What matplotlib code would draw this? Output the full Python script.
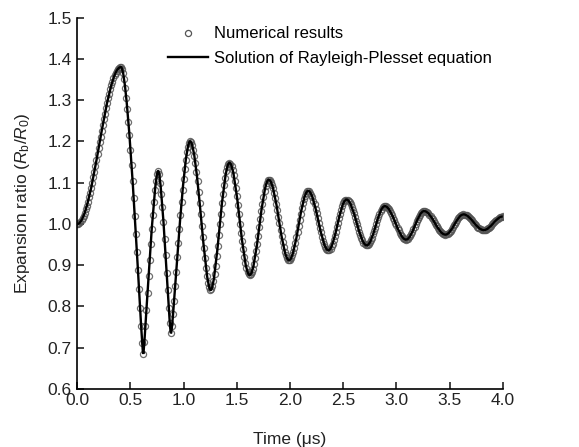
import matplotlib
matplotlib.use('Agg')
import matplotlib.pyplot as plt
import numpy as np
from matplotlib.path import Path
from matplotlib.patches import PathPatch
from matplotlib.bezier import BezierSegment
from matplotlib.lines import Line2D

plt.rcParams['font.family'] = ['Liberation Sans', 'DejaVu Sans']
plt.rcParams['mathtext.fontset'] = 'custom'
plt.rcParams['mathtext.rm'] = 'Liberation Sans'
plt.rcParams['mathtext.it'] = 'Liberation Sans:italic'

# turning points of the bubble radius
t_ext = [0.0, 0.41, 0.62, 0.76, 0.88, 1.06, 1.254, 1.43, 1.62, 1.80, 1.99,
         2.17, 2.36, 2.53, 2.72, 2.89, 3.09, 3.26, 3.46, 3.63, 3.82, 4.0]
r_ext = [1.0, 1.38, 0.685, 1.128, 0.735, 1.2, 0.84, 1.148, 0.876, 1.107, 0.912,
         1.08, 0.936, 1.059, 0.948, 1.043, 0.962, 1.031, 0.974, 1.023, 0.985, 1.018]
# how round each turning point is (short handle = sharp cusp)
bend = [0.36, 0.36, 0.08, 0.30, 0.12, 0.36, 0.30, 0.36, 0.36, 0.36, 0.36,
        0.36, 0.36, 0.36, 0.36, 0.36, 0.36, 0.36, 0.36, 0.36, 0.36, 0.36]

dt_num = 0.01  # output step of the numerical results

fig = plt.figure(figsize=(5.79, 4.47), dpi=100)
ax = fig.add_axes([0.1335, 0.1298, 0.735, 0.831])

verts = [(t_ext[0], r_ext[0])]
codes = [Path.MOVETO]
segs = []
for i in range(len(t_ext) - 1):
    t0, t1 = t_ext[i], t_ext[i + 1]
    d = t1 - t0
    p = [(t0, r_ext[i]), (t0 + bend[i] * d, r_ext[i]),
         (t1 - bend[i + 1] * d, r_ext[i + 1]), (t1, r_ext[i + 1])]
    verts += p[1:]
    codes += [Path.CURVE4] * 3
    segs.append(np.array(p))

# numerical results sit on the same curve
tt, rr = [], []
for p in segs:
    pts = BezierSegment(p)(np.linspace(0, 1, 400))
    tt.append(pts[:, 0])
    rr.append(pts[:, 1])
tt = np.concatenate(tt)
rr = np.concatenate(rr)
t_num = np.arange(0, 4.0 + 1e-9, dt_num)
r_num = np.interp(t_num, tt, rr)

ax.plot(t_num, r_num, 'o', ms=4.4, mfc='none', mec='#555555', mew=0.9,
        alpha=0.85, zorder=2)
ax.add_patch(PathPatch(Path(verts, codes), fc='none', ec='black', lw=1.7,
                       zorder=3))

ax.set_xlim(0, 4.0)
ax.set_ylim(0.6, 1.5)
ax.set_xticks(np.arange(0, 4.01, 0.5))
ax.set_yticks(np.arange(0.6, 1.51, 0.1))
ax.set_xticklabels(['%.1f' % v for v in np.arange(0, 4.01, 0.5)])
ax.set_yticklabels(['%.1f' % v for v in np.arange(0.6, 1.51, 0.1)])
for s in ['top', 'right']:
    ax.spines[s].set_visible(False)
for s in ['left', 'bottom']:
    ax.spines[s].set_linewidth(1.2)
ax.tick_params(direction='in', length=5, width=1.2, labelsize=12.5,
               colors='#222222')
ax.tick_params(axis='x', pad=3)
ax.tick_params(axis='y', pad=4)
ax.set_xlabel('Time (\u03bcs)', fontsize=12.5, color='#222222', labelpad=17)
ax.set_ylabel(r'Expansion ratio ($R_{\rm b}/R_{\rm 0}$)', fontsize=12.5,
              color='#222222', labelpad=11)

h1 = Line2D([], [], ls='none', marker='o', ms=4.4, mfc='none', mec='#555555',
            mew=0.9)
h2 = Line2D([], [], color='black', lw=1.7)
ax.legend([h1, h2], ['Numerical results', 'Solution of Rayleigh-Plesset equation'],
          loc='upper left', bbox_to_anchor=(0.213, 0.976), frameon=False,
          fontsize=12, handlelength=2.4, handletextpad=0.36, labelspacing=0.58,
          borderaxespad=0, borderpad=0)

fig.savefig('out.png', dpi=100)
